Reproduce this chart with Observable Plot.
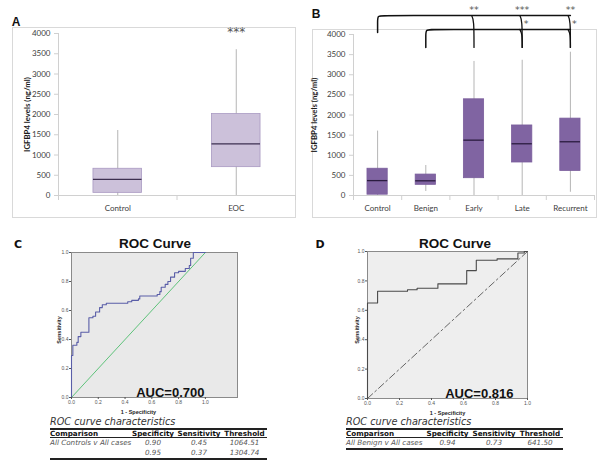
<!DOCTYPE html>
<html><head><meta charset="utf-8">
<script src="https://cdn.jsdelivr.net/npm/d3@7"></script>
<script src="https://cdn.jsdelivr.net/npm/@observablehq/plot@0.6"></script>
<style>
body{margin:0;background:#fff;}
#root{position:relative;width:600px;height:465px;overflow:hidden;background:#fff;}
.lbl{position:absolute;transform:translate(-50%,-50%);white-space:nowrap;line-height:1;}
.frame{position:absolute;border:1px solid #d9d9d9;box-sizing:border-box;}
.cap{position:absolute;font-family:"DejaVu Sans",sans-serif;font-style:italic;font-size:9.7px;color:#333;white-space:nowrap;line-height:12px;}
table.rt{position:absolute;border-collapse:collapse;font-family:"DejaVu Sans",sans-serif;border-top:2px solid #222;border-bottom:2px solid #222;table-layout:fixed;}
table.rt th{font-size:7.2px;font-weight:bold;color:#111;padding:0;height:7px;line-height:7px;border-bottom:1px solid #222;text-align:center;white-space:nowrap;}
table.rt th:first-child,table.rt td:first-child{text-align:left;}
table.rt td{font-size:7.2px;font-style:italic;color:#555;padding:0;height:10px;line-height:10px;text-align:center;white-space:nowrap;}
</style></head><body><div id="root"></div>
<script>
// ---------- data ----------
const catsA = ["Control", "EOC"];
const minA = [0, 0];
const q1A = [65, 700];
const medA = [400, 1275];
const q3A = [660, 2010];
const maxA = [1605, 3600];
const sigA = [{cat: "EOC", label: "***"}];

const catsB = ["Control", "Benign", "Early", "Late", "Recurrent"];
const minB = [0, 100, 0, 0, 80];
const q1B = [20, 265, 430, 820, 610];
const medB = [370, 365, 1375, 1285, 1335];
const q3B = [665, 520, 2390, 1740, 1910];
const maxB = [1600, 745, 3330, 3360, 3560];
const sigB = [
  {from: "Control", to: "Early", label: "**"},
  {from: "Control", to: "Late", label: "***"},
  {from: "Control", to: "Recurrent", label: "**"},
  {from: "Benign", to: "Late", label: "*"},
  {from: "Benign", to: "Recurrent", label: "*"}
];
const yTicks = [0, 500, 1000, 1500, 2000, 2500, 3000, 3500, 4000];
const yTitle = "IGFBP4 levels (ng/ml)";

const rocC_fpr = [0, 0, 0.01, 0.04, 0.05, 0.07, 0.13, 0.16, 0.18, 0.21, 0.23, 0.26, 0.41, 0.42, 0.45, 0.50, 0.51, 0.62, 0.64, 0.66, 0.67, 0.70, 0.72, 0.74, 0.77, 0.80, 0.85, 0.88, 0.89, 0.91, 1.0];
const rocC_tpr = [0, 0.29, 0.36, 0.38, 0.42, 0.45, 0.55, 0.56, 0.59, 0.62, 0.64, 0.65, 0.65, 0.66, 0.67, 0.68, 0.70, 0.70, 0.71, 0.73, 0.76, 0.78, 0.80, 0.83, 0.86, 0.87, 0.89, 0.91, 0.96, 1.0, 1.0];
const rocD_fpr = [0, 0, 0.063, 0.25, 0.31, 0.44, 0.62, 0.68, 0.81, 0.94, 0.98, 1.0];
const rocD_tpr = [0, 0.65, 0.73, 0.74, 0.75, 0.78, 0.87, 0.94, 0.95, 0.99, 1.0, 1.0];
const aucC = "0.700";
const aucD = "0.816";
const rocTicks = [0, 0.2, 0.4, 0.6, 0.8, 1.0];

const tableHeader = ["Comparison", "Specificity", "Sensitivity", "Threshold"];
const tableC = [["All Controls v All cases", "0.90", "0.45", "1064.51"], ["", "0.95", "0.37", "1304.74"]];
const tableD = [["All Benign v All cases", "0.94", "0.73", "641.50"]];
const tableCaption = "ROC curve characteristics";

// ---------- helpers ----------
const root = document.getElementById("root");
function place(el, left, top) {
  el.style.position = "absolute"; el.style.left = left + "px"; el.style.top = top + "px";
  root.appendChild(el);
}
function label(text, x, y, css) {
  const d = document.createElement("div");
  d.className = "lbl"; d.textContent = text;
  d.style.left = x + "px"; d.style.top = y + "px";
  Object.assign(d.style, css);
  root.appendChild(d);
}
function frame(x0, y0, x1, y1) {
  const d = document.createElement("div");
  d.className = "frame";
  Object.assign(d.style, {left: x0 + "px", top: y0 + "px", width: (x1 - x0) + "px", height: (y1 - y0) + "px"});
  root.appendChild(d);
}
const starFont = "DejaVu Sans, sans-serif";

function boxPlot(o) {
  const n = o.cats.length;
  const rows = o.cats.map((c, i) => ({i, c, min: o.mins[i], q1: o.q1s[i], med: o.meds[i], q3: o.q3s[i], max: o.maxs[i]}));
  const plotH = o.height - o.marginTop - o.marginBottom;
  const yMax = d3.max(yTicks);
  const px = yMax / plotH; // data units per pixel
  const hw = o.boxHalf;
  const marks = [
    Plot.ruleY([0], {stroke: "#d0d0d0"}),
    Plot.ruleX([-0.5], {y1: 0, y2: yMax, stroke: "#d0d0d0"}),
    Plot.ruleX(d3.range(n + 1).map(i => i - 0.5), {y1: -5 * px, y2: 0, stroke: "#d0d0d0"}),
    Plot.axisY({ticks: yTicks, tickFormat: d3.format("d"), tickSize: 4, tickPadding: 4, fontSize: 8, color: "#404040", stroke: "#d0d0d0", label: null}),
    Plot.axisX({ticks: d3.range(n), tickFormat: i => o.cats[i], tickSize: 0, tickPadding: 10, fontSize: 8, color: "#404040", label: null}),
    Plot.text([yTitle], {frameAnchor: "left", rotate: -90, textAnchor: "middle", dx: o.titleDx, fontSize: 7.8, fontWeight: "bold", fill: "#1a1a1a"}),
    Plot.ruleX(rows, {x: "i", y1: "min", y2: "max", stroke: "#b5b5b5"}),
    Plot.rectY(rows, {x1: d => d.i - hw, x2: d => d.i + hw, y1: "q1", y2: "q3", fill: o.fill, stroke: o.stroke, strokeWidth: 0.8}),
    Plot.ruleY(rows, {x1: d => d.i - hw, x2: d => d.i + hw, y: "med", stroke: o.medStroke, strokeWidth: 1.3}),
    ...(o.extra ? o.extra(rows, px) : [])
  ];
  return Plot.plot({
    width: o.width, height: o.height,
    marginLeft: o.marginLeft, marginRight: o.marginRight, marginTop: o.marginTop, marginBottom: o.marginBottom,
    x: {domain: [-0.5, n - 0.5], label: null},
    y: {domain: [0, yMax], label: null},
    style: {fontFamily: "Lato, sans-serif", background: "transparent", overflow: "visible"},
    marks
  });
}

// ---------- panel A ----------
frame(12, 27, 296, 218);
const svgA = boxPlot({
  cats: catsA, mins: minA, q1s: q1A, meds: medA, q3s: q3A, maxs: maxA,
  width: 284, height: 191, marginLeft: 46, marginRight: 1, marginTop: 6, marginBottom: 23,
  boxHalf: 0.205, fill: "#ccc1da", stroke: "#a999c2", medStroke: "#3d2f50", titleDx: -31,
  extra: (rows) => [
    Plot.text(sigA, {x: d => catsA.indexOf(d.cat), y: d => rows[catsA.indexOf(d.cat)].max, dy: -18, text: "label", fontSize: 12, fontFamily: starFont, fill: "#555"})
  ]
});
place(svgA, 12, 27);
label("A", 16, 22, {fontFamily: "Liberation Sans, Arial, sans-serif", fontWeight: "bold", fontSize: "12px", color: "#111"});

// ---------- panel B ----------
frame(312, 29, 597, 218);
const svgB = boxPlot({
  cats: catsB, mins: minB, q1s: q1B, meds: medB, q3s: q3B, maxs: maxB,
  width: 286, height: 218, marginLeft: 41, marginRight: 4, marginTop: 34, marginBottom: 23,
  boxHalf: 0.21, fill: "#8064a2", stroke: "#7a5d9c", medStroke: "#2b1c40", titleDx: -39,
  extra: (rows, px) => {
    const groups = d3.groups(sigB, d => d.from);
    const marks = [];
    groups.forEach(([from, list], k) => {
      const f = catsB.indexOf(from);
      const level = k === 0 ? 4470 : 4125;
      const startLow = k === 0 ? 4050 : 3680;
      const dropLow = 3680;
      const last = d3.max(list, d => catsB.indexOf(d.to));
      const r = 6 * px;
      const path = [[f, startLow], [f, level - r], [f, level], [f + 0.12, level], [last, level]];
      marks.push(Plot.line(path, {curve: "basis", stroke: "#111", strokeWidth: 1.5}));
      list.forEach(d => {
        const t = catsB.indexOf(d.to);
        marks.push(Plot.line([[t - 0.05, level], [t, level - r * 0.7], [t, dropLow]], {curve: "basis", stroke: "#111", strokeWidth: 1.3}));
      });
      marks.push(Plot.text(list, {x: d => catsB.indexOf(d.to), y: level, dy: -6, dx: k === 0 ? 0 : 4, text: "label", fontSize: 9.5, fontFamily: starFont, fill: "#555"}));
    });
    return marks;
  }
});
place(svgB, 312, 0);
label("B", 316, 14, {fontFamily: "Liberation Sans, Arial, sans-serif", fontWeight: "bold", fontSize: "12px", color: "#111"});

// ---------- ROC panels ----------
function rocPlot(o) {
  const pts = o.fpr.map((x, i) => ({x, y: o.tpr[i]}));
  return Plot.plot({
    width: o.width, height: o.height,
    marginLeft: o.marginLeft, marginRight: o.marginRight, marginTop: o.marginTop, marginBottom: o.marginBottom,
    x: {domain: [0, o.xMax], label: null},
    y: {domain: [0, 1], label: null},
    style: {fontFamily: "Liberation Sans, Arial, sans-serif", background: "transparent", overflow: "visible"},
    marks: [
      Plot.frame({fill: o.bg, stroke: "#8a8a8a"}),
      Plot.line([[0, 0], [1, 1]], {stroke: o.diagStroke, strokeWidth: 1, strokeDasharray: o.diagDash}),
      Plot.line(pts, {x: "x", y: "y", curve: "step-after", stroke: o.curveStroke, strokeWidth: 1.1}),
      Plot.axisX({ticks: rocTicks, tickFormat: ".1f", tickSize: 2, tickPadding: 1, fontSize: 5, color: "#555", label: null}),
      Plot.axisY({ticks: rocTicks, tickFormat: ".1f", tickSize: 2, tickPadding: 1, fontSize: 5, color: "#555", label: null}),
      Plot.text(["1 - Specificity"], {x: d3.mean(rocTicks), frameAnchor: "bottom", dy: 16, fontSize: 5.5, fontWeight: "bold", fill: "#222"}),
      Plot.text(["Sensitivity"], {frameAnchor: "left", rotate: -90, textAnchor: "middle", dx: o.sensDx, dy: 5, fontSize: 5.5, fontWeight: "bold", fill: "#222"}),
      Plot.text([o.auc], {frameAnchor: "bottom-right", text: d => "AUC=" + d, textAnchor: "end", lineAnchor: "bottom", dx: o.aucDx, dy: -1, fontSize: 13, fontWeight: "bold", fill: "#111"})
    ]
  });
}

const svgC = rocPlot({fpr: rocC_fpr, tpr: rocC_tpr, auc: aucC, xMax: 1.24, bg: "#e9e9e9",
  diagStroke: "#5ec27a", diagDash: null, curveStroke: "#5a5ea8",
  width: 300, height: 195, marginLeft: 71, marginRight: 63, marginTop: 22, marginBottom: 28, sensDx: -12, aucDx: -33});
place(svgC, 0, 230);
const svgD = rocPlot({fpr: rocD_fpr, tpr: rocD_tpr, auc: aucD, xMax: 1.0, bg: "#eeeeee",
  diagStroke: "#666", diagDash: "7,3,2,3", curveStroke: "#4a4a4a",
  width: 300, height: 195, marginLeft: 67, marginRight: 73, marginTop: 21, marginBottom: 27, sensDx: -10, aucDx: -14});
place(svgD, 300, 230);

const titleCss = {fontFamily: "Liberation Sans, Arial, sans-serif", fontWeight: "bold", fontSize: "13.5px", color: "#111"};
label("ROC Curve", 155, 244, titleCss);
label("ROC Curve", 455, 244, titleCss);
label("C", 18, 244, {fontFamily: "DejaVu Sans, sans-serif", fontWeight: "bold", fontSize: "11px", color: "#111"});
label("D", 320, 244, {fontFamily: "DejaVu Sans, sans-serif", fontWeight: "bold", fontSize: "11px", color: "#111"});

// ---------- tables ----------
function makeTable(rows, left, top, widths) {
  const cap = document.createElement("div");
  cap.className = "cap"; cap.textContent = tableCaption;
  place(cap, left, top - 12);
  const t = document.createElement("table");
  t.className = "rt";
  t.style.width = d3.sum(widths) + "px";
  const cg = document.createElement("colgroup");
  widths.forEach(w => { const c = document.createElement("col"); c.style.width = w + "px"; cg.appendChild(c); });
  t.appendChild(cg);
  const thead = document.createElement("thead");
  const hr = document.createElement("tr");
  tableHeader.forEach(h => { const th = document.createElement("th"); th.textContent = h; hr.appendChild(th); });
  thead.appendChild(hr); t.appendChild(thead);
  const tb = document.createElement("tbody");
  rows.forEach(r => {
    const tr = document.createElement("tr");
    r.forEach(v => { const td = document.createElement("td"); td.textContent = v; tr.appendChild(td); });
    tb.appendChild(tr);
  });
  t.appendChild(tb);
  place(t, left, top);
}
makeTable(tableC, 50, 428, [80, 46, 46, 45]);
makeTable(tableD, 346, 428, [78, 47, 46, 46]);
</script></body></html>
